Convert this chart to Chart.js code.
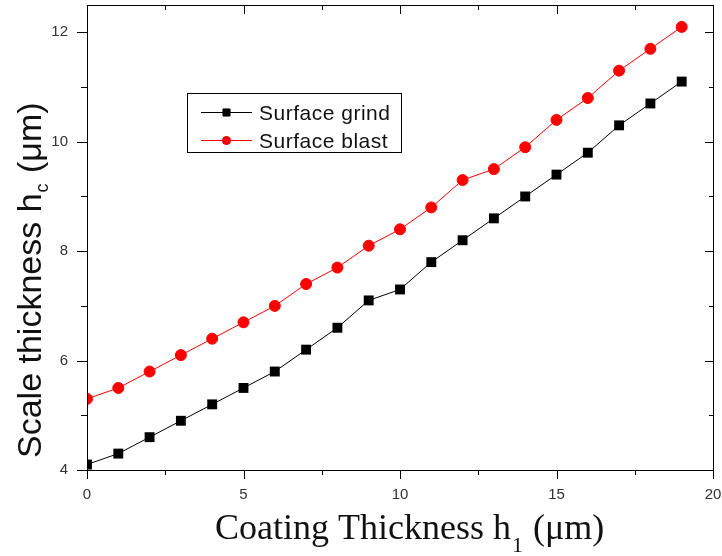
<!DOCTYPE html>
<html>
<head>
<meta charset="utf-8">
<script src="https://cdn.jsdelivr.net/npm/chart.js@4.4.0/dist/chart.umd.min.js"></script>
<style>
  html, body { margin: 0; padding: 0; background: #fff; }
  #wrap { width: 722px; height: 556px; }
</style>
</head>
<body>
<div id="wrap"><canvas id="scaleChart"></canvas></div>
<script>
// values
const coating = [0, 1, 2, 3, 4, 5, 6, 7, 8, 9, 10, 11, 12, 13, 14, 15, 16, 17, 18, 19];
const grind = [4.1, 4.3, 4.6, 4.9, 5.2, 5.5, 5.8, 6.2, 6.6, 7.1, 7.3, 7.8, 8.2, 8.6, 9.0, 9.4, 9.8, 10.3, 10.7, 11.1];
const blast = [5.3, 5.5, 5.8, 6.1, 6.4, 6.7, 7.0, 7.4, 7.7, 8.1, 8.4, 8.8, 9.3, 9.5, 9.9, 10.4, 10.8, 11.3, 11.7, 12.1];
const seriesNames = ['Surface grind', 'Surface blast'];
const xTicks = [0, 5, 10, 15, 20];
const yTicks = [4, 6, 8, 10, 12];
const xMinor = [2.5, 7.5, 12.5, 17.5];
const yMinor = [5, 7, 9, 11];

const SANS = '"Liberation Sans", Arial, sans-serif';
const SERIF = '"Liberation Serif", "Times New Roman", serif';

function toPoints(ys) {
    return coating.map((x, i) => ({ x: x, y: ys[i] }));
}

// frame, tick marks, axis titles with subscripts and the inset legend
const decorations = {
    id: 'decorations',
    afterDraw(chart) {
        const ctx = chart.ctx;
        const a = chart.chartArea;
        const xs = chart.scales.x;
        const ys = chart.scales.y;
        const px = v => Math.round(v) + 0.5;

        ctx.save();
        ctx.strokeStyle = '#000';
        ctx.lineWidth = 1;
        ctx.strokeRect(px(a.left), px(a.top), Math.round(a.right - a.left), Math.round(a.bottom - a.top));

        ctx.beginPath();
        xTicks.concat(xMinor).forEach(v => {
            const len = xTicks.includes(v) ? 9 : 5;
            const x = px(xs.getPixelForValue(v));
            ctx.moveTo(x, a.bottom); ctx.lineTo(x, a.bottom + len);
            ctx.moveTo(x, a.top); ctx.lineTo(x, a.top + len);
        });
        yTicks.concat(yMinor).forEach(v => {
            const len = yTicks.includes(v) ? 10 : 6;
            const y = px(ys.getPixelForValue(v));
            ctx.moveTo(a.left, y); ctx.lineTo(a.left - len, y);
            ctx.moveTo(a.right, y); ctx.lineTo(a.right - len + 2, y);
        });
        ctx.stroke();

        // x title: Coating Thickness h1 (µm)
        ctx.fillStyle = '#111';
        ctx.textBaseline = 'alphabetic';
        ctx.textAlign = 'left';
        let x = 215;
        const by = 539;
        ctx.font = '36px ' + SERIF;
        ctx.fillText('Coating Thickness h', x, by);
        x += ctx.measureText('Coating Thickness h').width;
        ctx.font = '22px ' + SERIF;
        ctx.fillText('1', x + 1, by + 13);
        x += ctx.measureText('1').width + 2;
        ctx.font = '36px ' + SERIF;
        ctx.fillText(' (\u03bcm)', x, by);

        // y title: Scale thickness hc (µm)
        ctx.save();
        ctx.translate(41, 458);
        ctx.rotate(-Math.PI / 2);
        let t = 0;
        ctx.font = '34px ' + SANS;
        ctx.fillText('Scale thickness h', t, 0);
        t += ctx.measureText('Scale thickness h').width;
        ctx.font = '18px ' + SANS;
        ctx.fillText('c', t + 1, 7);
        t += ctx.measureText('c').width + 2;
        ctx.font = '34px ' + SANS;
        ctx.fillText(' (\u03bcm)', t, 0);
        ctx.restore();

        // legend box
        const lx = a.left + 100, ly = a.top + 88, lw = 214, lh = 59;
        ctx.strokeRect(px(lx), px(ly), lw, lh);
        ctx.font = '21px ' + SANS;
        ctx.letterSpacing = '0.5px';
        ctx.textBaseline = 'middle';
        chart.data.datasets.forEach((ds, i) => {
            const y = ly + 19 + i * 28;
            ctx.strokeStyle = ds.borderColor;
            ctx.beginPath();
            ctx.moveTo(lx + 14, px(y));
            ctx.lineTo(lx + 65, px(y));
            ctx.stroke();
            Chart.helpers.drawPoint(ctx, {
                pointStyle: ds.pointStyle,
                radius: ds.pointStyle === 'rect' ? 5 : 4,
                borderWidth: 1,
                rotation: 0
            }, lx + 39.5, y + 0.5);
            ctx.fillStyle = ds.backgroundColor;
            ctx.fill();
            ctx.fillStyle = '#111';
            ctx.fillText(ds.label, lx + 72, y + 2);
        });
        ctx.restore();
    }
};

// fixed axis sizes, no extra room reserved for the edge labels
function fixX(s) {
    s.height = 86;
    s.paddingLeft = 0;
    s.paddingRight = 0;
}
function fixY(s) {
    s.width = 87;
    s.paddingTop = 0;
    s.paddingBottom = 0;
}

const ctx = document.getElementById('scaleChart');
const scaleChart = new Chart(ctx, {
    type: 'line',
    data: {
        datasets: [{
            label: seriesNames[0],
            data: toPoints(grind),
            borderColor: '#000',
            backgroundColor: '#000',
            borderWidth: 1,
            pointStyle: 'rect',
            pointRadius: 7,
            pointBorderWidth: 0,
            tension: 0
        }, {
            label: seriesNames[1],
            data: toPoints(blast),
            borderColor: '#ff0000',
            backgroundColor: '#ff0000',
            borderWidth: 1,
            pointStyle: 'circle',
            pointRadius: 5.5,
            pointBorderWidth: 1,
            tension: 0
        }]
    },
    options: {
        responsive: true,
        maintainAspectRatio: false,
        animation: false,
        layout: { autoPadding: false, padding: { top: 5, right: 9, left: 0, bottom: 0 } },
        plugins: {
            legend: { display: false },
            tooltip: { enabled: false }
        },
        scales: {
            x: {
                type: 'linear',
                min: 0,
                max: 20,
                grid: { display: false, drawTicks: false },
                border: { display: false },
                afterBuildTicks: s => { s.ticks = xTicks.map(v => ({ value: v })); },
                afterFit: fixX,
                ticks: { padding: 16, color: '#333', font: { family: SANS, size: 15 } }
            },
            y: {
                min: 4,
                max: 12.5,
                grid: { display: false, drawTicks: false },
                border: { display: false },
                afterBuildTicks: s => { s.ticks = yTicks.map(v => ({ value: v })); },
                afterFit: fixY,
                ticks: { padding: 19, color: '#333', font: { family: SANS, size: 15 } }
            }
        }
    },
    plugins: [decorations]
});
</script>
</body>
</html>
